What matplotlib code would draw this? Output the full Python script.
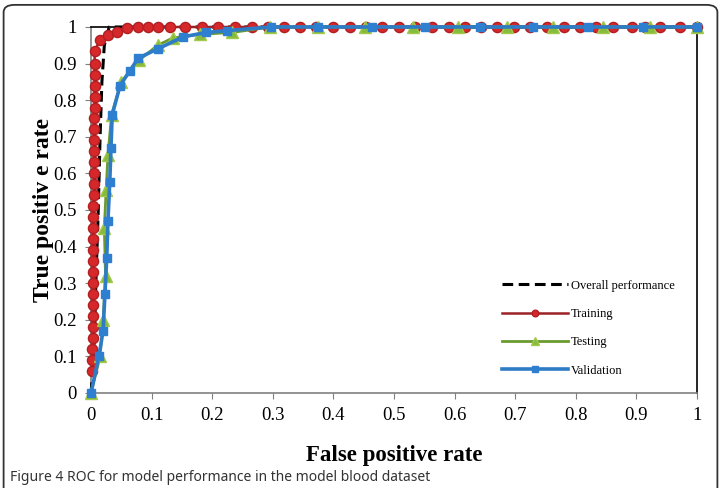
import matplotlib
matplotlib.use("Agg")
import matplotlib.pyplot as plt
from matplotlib.patches import FancyBboxPatch

# ROC curves
overall_x = [0.0, 0.005, 0.008, 0.012, 0.015, 0.018, 0.022, 0.03, 1.0]
overall_y = [0.0, 0.1, 0.3, 0.5, 0.7, 0.85, 0.95, 1.0, 1.0]

train_x = [0.002, 0.002, 0.002, 0.003, 0.003, 0.003, 0.003, 0.003, 0.003, 0.004,
           0.004, 0.004, 0.004, 0.004, 0.004, 0.004, 0.005, 0.005, 0.005, 0.005,
           0.005, 0.005, 0.005, 0.005, 0.006, 0.006, 0.006, 0.006, 0.006, 0.006,
           0.015, 0.028, 0.043, 0.059, 0.077, 0.094, 0.111, 0.13, 0.155, 0.183,
           0.21, 0.238, 0.266, 0.292, 0.318, 0.345, 0.372, 0.4, 0.427, 0.454,
           0.48, 0.508, 0.535, 0.562, 0.59, 0.617, 0.644, 0.67, 0.698, 0.725,
           0.752, 0.78, 0.807, 0.834, 0.861, 0.893, 0.915, 0.939, 0.972, 1.0]
train_y = [0.06, 0.09, 0.12, 0.15, 0.18, 0.21, 0.24, 0.27, 0.30, 0.33,
           0.36, 0.39, 0.42, 0.45, 0.48, 0.51, 0.54, 0.57, 0.60, 0.63,
           0.66, 0.69, 0.72, 0.75, 0.78, 0.81, 0.84, 0.87, 0.90, 0.935,
           0.964, 0.978, 0.986, 0.997, 1.0, 1.0, 1.0, 1.0, 1.0, 1.0,
           1.0, 1.0, 1.0, 1.0, 1.0, 1.0, 1.0, 1.0, 1.0, 1.0,
           1.0, 1.0, 1.0, 1.0, 1.0, 1.0, 1.0, 1.0, 1.0, 1.0,
           1.0, 1.0, 1.0, 1.0, 1.0, 1.0, 1.0, 1.0, 1.0, 1.0]

test_x = [0.0, 0.015, 0.02, 0.024, 0.022, 0.025, 0.028, 0.034, 0.05, 0.08,
          0.11, 0.135, 0.18, 0.233, 0.296, 0.375, 0.452, 0.531, 0.606, 0.686,
          0.762, 0.845, 0.922, 1.0]
test_y = [0.0, 0.1, 0.2, 0.32, 0.45, 0.555, 0.65, 0.76, 0.85, 0.91,
          0.95, 0.97, 0.98, 0.985, 1.0, 1.0, 1.0, 1.0, 1.0, 1.0,
          1.0, 1.0, 1.0, 1.0]

valid_x = [0.0, 0.013, 0.02, 0.023, 0.026, 0.028, 0.031, 0.033, 0.035, 0.048,
           0.064, 0.078, 0.11, 0.152, 0.19, 0.224, 0.297, 0.375, 0.464, 0.551,
           0.642, 0.729, 0.82, 0.911, 1.0]
valid_y = [0.0, 0.1, 0.17, 0.27, 0.37, 0.47, 0.577, 0.67, 0.76, 0.84,
           0.88, 0.915, 0.94, 0.973, 0.985, 0.99, 1.0, 1.0, 1.0, 1.0,
           1.0, 1.0, 1.0, 1.0, 1.0]

ticks = [0, 0.1, 0.2, 0.3, 0.4, 0.5, 0.6, 0.7, 0.8, 0.9, 1]
tick_labels = ["0", "0.1", "0.2", "0.3", "0.4", "0.5", "0.6", "0.7", "0.8", "0.9", "1"]

serif = ["Liberation Serif", "DejaVu Serif"]

fig = plt.figure(figsize=(7.21, 4.88), dpi=100)
frame = FancyBboxPatch((0.005, -0.05), 0.99, 1.04, transform=fig.transFigure,
                       boxstyle="round,pad=0,rounding_size=0.015",
                       fc="none", ec="#333333", lw=1.3, zorder=-1)
fig.patches.append(frame)

ax = fig.add_axes([0.1262, 0.1947, 0.8405, 0.75])
ax.set_facecolor("none")

ax.plot(overall_x, overall_y, color="black", ls=(0, (3.5, 1.8)), lw=2.2,
        label="Overall performance", zorder=3, clip_on=False)
ax.plot(train_x, train_y, color="#9b2226", lw=1.8, marker="o", ms=7.3,
        mfc="#d6282b", mec="#b01e22", label="Training", zorder=4, clip_on=False)
ax.plot(test_x, test_y, color="#6a9a30", lw=2, marker="^", ms=8,
        mfc="#86bb3c", mec="#a3c94a", label="Testing", zorder=5, clip_on=False)
ax.plot(valid_x, valid_y, color="#2e7cc6", lw=2.6, marker="s", ms=6,
        mfc="#2f7fd0", mec="#2f7fd0", label="Validation", zorder=6, clip_on=False)

ax.set_xlim(0, 1)
ax.set_ylim(0, 1)
ax.set_xticks(ticks)
ax.set_xticklabels(tick_labels, family=serif, fontsize=13.5)
ax.set_yticks(ticks)
ax.set_yticklabels(tick_labels, family=serif, fontsize=13.5)
ax.tick_params(direction="out", length=4, color="#808080", pad=6)

for side in ["left", "bottom"]:
    ax.spines[side].set_color("#808080")
    ax.spines[side].set_linewidth(1.2)
for side in ["top", "right"]:
    ax.spines[side].set_color("black")
    ax.spines[side].set_linewidth(1.2)

ax.set_xlabel("False positive rate", family=serif, fontsize=16.5,
              fontweight="bold", labelpad=15)
ax.set_ylabel("True positiv e rate", family=serif, fontsize=17,
              fontweight="bold", labelpad=0)

leg = ax.legend(loc="upper left", bbox_to_anchor=(0.66, 0.34), frameon=False,
                prop={"family": serif, "size": 9}, handlelength=5.3,
                labelspacing=1.3, handletextpad=0.2, numpoints=1,
                markerscale=0.65)

fig.text(0.014, 1 - 470 / 488, "Figure 4 ROC for model performance in the model blood dataset",
         fontsize=10, color="#333333", va="top", family="Noto Sans")

fig.savefig("out.png", dpi=100)
